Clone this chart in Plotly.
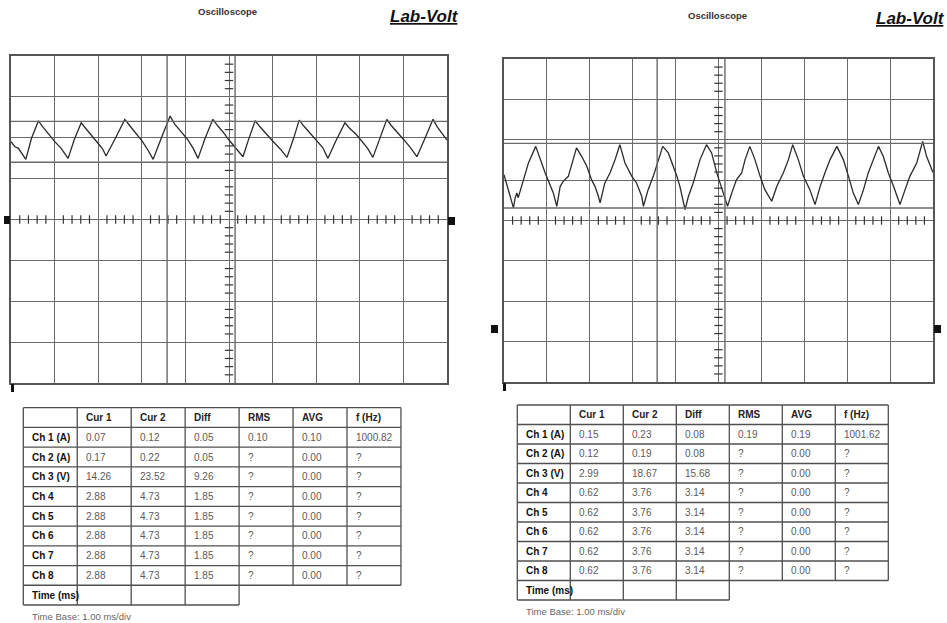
import plotly.graph_objects as go

W, H = 947, 623

# ---------------- data ----------------
# Left capture: Ch 1 current (A) vs time (ms)
left_time_ms = [0.00, 0.09, 0.17, 0.22, 0.34, 0.47, 0.63, 0.72, 0.85, 1.00, 1.15, 1.31,
                1.45, 1.61, 1.72, 1.86, 2.00, 2.10, 2.18, 2.40, 2.61, 2.72, 2.86, 3.00,
                3.14, 3.26, 3.45, 3.65, 3.75, 3.90, 4.05, 4.18, 4.29, 4.45, 4.63, 4.75,
                4.88, 5.00, 5.15, 5.32, 5.45, 5.60, 5.70, 5.85, 6.00, 6.18, 6.33, 6.48,
                6.61, 6.72, 6.88, 7.02, 7.15, 7.27, 7.45, 7.66, 7.76, 7.92, 8.05, 8.18,
                8.30, 8.45, 8.62, 8.72, 8.88, 9.02, 9.16, 9.31, 9.50, 9.68, 9.78, 9.90,
                10.00]
left_ch1_a = [0.0951, 0.0890, 0.0870, 0.0829, 0.0736, 0.0993, 0.1208, 0.1140, 0.1050, 0.0955, 0.0870, 0.0748,
              0.0975, 0.1183, 0.1110, 0.1025, 0.0930, 0.0865, 0.0776, 0.1000, 0.1225, 0.1150, 0.1060, 0.0965,
              0.0850, 0.0736, 0.1000, 0.1265, 0.1170, 0.1080, 0.0980, 0.0870, 0.0748, 0.0990, 0.1225, 0.1140,
              0.1060, 0.0972, 0.0880, 0.0768, 0.0980, 0.1208, 0.1140, 0.1045, 0.0960, 0.0860, 0.0760, 0.0990,
              0.1216, 0.1140, 0.1040, 0.0955, 0.0880, 0.0748, 0.0960, 0.1183, 0.1120, 0.1040, 0.0950, 0.0870,
              0.0760, 0.0990, 0.1225, 0.1150, 0.1060, 0.0970, 0.0880, 0.0768, 0.1000, 0.1225, 0.1130, 0.1040,
              0.0972]

# Right capture: Ch 1 current (A) vs time (ms)
right_time_ms = [0.00, 0.22, 0.26, 0.30, 0.33, 0.45, 0.57, 0.74, 0.88, 0.96, 1.15, 1.23,
                 1.31, 1.38, 1.50, 1.62, 1.69, 1.81, 1.93, 2.04, 2.12, 2.20, 2.24, 2.35,
                 2.47, 2.59, 2.70, 2.82, 2.98, 3.09, 3.21, 3.25, 3.36, 3.48, 3.60, 3.70,
                 3.83, 3.95, 4.03, 4.10, 4.22, 4.30, 4.41, 4.57, 4.72, 4.84, 4.96, 5.11,
                 5.21, 5.31, 5.42, 5.54, 5.62, 5.73, 5.85, 5.97, 6.08, 6.24, 6.36, 6.51,
                 6.63, 6.73, 6.86, 6.98, 7.13, 7.25, 7.37, 7.48, 7.60, 7.76, 7.91, 8.03,
                 8.14, 8.26, 8.38, 8.49, 8.61, 8.73, 8.84, 8.96, 9.08, 9.23, 9.35, 9.46,
                 9.62, 9.76, 9.85, 10.00]
right_ch1_a = [0.1913, 0.1501, 0.1625, 0.1687, 0.1625, 0.1851, 0.2058, 0.2263, 0.2058, 0.1934, 0.1687, 0.1521,
               0.1768, 0.1830, 0.1892, 0.2099, 0.2244, 0.2140, 0.2016, 0.1851, 0.1768, 0.1645, 0.1563, 0.1810,
               0.1934, 0.2099, 0.2284, 0.2058, 0.1892, 0.1810, 0.1645, 0.1521, 0.1727, 0.1892, 0.2099, 0.2263,
               0.2182, 0.2016, 0.1892, 0.1768, 0.1480, 0.1645, 0.1810, 0.2099, 0.2284, 0.2182, 0.1934, 0.1687,
               0.1521, 0.1687, 0.1851, 0.1934, 0.2099, 0.2263, 0.2099, 0.1892, 0.1727, 0.1583, 0.1768, 0.1934,
               0.2099, 0.2284, 0.2099, 0.1892, 0.1727, 0.1542, 0.1768, 0.1934, 0.2099, 0.2263, 0.2099, 0.1892,
               0.1687, 0.1542, 0.1727, 0.1934, 0.2099, 0.2263, 0.2140, 0.1934, 0.1768, 0.1542, 0.1727, 0.1892,
               0.2058, 0.2325, 0.2140, 0.1938]

assert len(left_time_ms) == len(left_ch1_a)
assert len(right_time_ms) == len(right_ch1_a)

# scope settings
amps_per_div = 0.05
ms_per_div = 1.0
left_ground_div = 0.0
right_ground_div = -2.69
left_cursor_ms = [3.58, 5.14]
right_cursor_ms = [3.57, 5.15]

# table contents
headers = ["", "Cur 1", "Cur 2", "Diff", "RMS", "AVG", "f (Hz)"]
row_labels = ["Ch 1 (A)", "Ch 2 (A)", "Ch 3 (V)", "Ch 4", "Ch 5", "Ch 6", "Ch 7", "Ch 8"]
time_label = "Time (ms)"

left_cur1 = ["0.07", "0.17", "14.26", "2.88", "2.88", "2.88", "2.88", "2.88"]
left_cur2 = ["0.12", "0.22", "23.52", "4.73", "4.73", "4.73", "4.73", "4.73"]
left_diff = ["0.05", "0.05", "9.26", "1.85", "1.85", "1.85", "1.85", "1.85"]
left_rms = ["0.10", "?", "?", "?", "?", "?", "?", "?"]
left_avg = ["0.10", "0.00", "0.00", "0.00", "0.00", "0.00", "0.00", "0.00"]
left_freq = ["1000.82", "?", "?", "?", "?", "?", "?", "?"]

right_cur1 = ["0.15", "0.12", "2.99", "0.62", "0.62", "0.62", "0.62", "0.62"]
right_cur2 = ["0.23", "0.19", "18.67", "3.76", "3.76", "3.76", "3.76", "3.76"]
right_diff = ["0.08", "0.08", "15.68", "3.14", "3.14", "3.14", "3.14", "3.14"]
right_rms = ["0.19", "?", "?", "?", "?", "?", "?", "?"]
right_avg = ["0.19", "0.00", "0.00", "0.00", "0.00", "0.00", "0.00", "0.00"]
right_freq = ["1001.62", "?", "?", "?", "?", "?", "?", "?"]

title_text = "Oscilloscope"
logo_text = "Lab-Volt"
timebase_text = "Time Base: 1.00 ms/div"

# ---------------- helpers ----------------
def px(x):
    return x / W

def py(y):
    return 1 - y / H

FONT = "Liberation Sans, Arial, sans-serif"
GRID = "#6a6a6a"
shapes = []
annotations = []

fig = go.Figure()


def setup_scope(idx, dom_x, dom_y, ground_div, t, a, cursors_t, cursor_levels):
    xa = "xaxis" if idx == 1 else f"xaxis{idx}"
    ya = "yaxis" if idx == 1 else f"yaxis{idx}"
    xr = "x" if idx == 1 else f"x{idx}"
    yr = "y" if idx == 1 else f"y{idx}"
    center = -ground_div * amps_per_div
    common = dict(showgrid=True, gridcolor=GRID, gridwidth=1.4, showticklabels=False,
                  ticks="", zeroline=False, showline=True, linecolor="#555",
                  linewidth=1.8, mirror=True, fixedrange=True)
    fig.update_layout({
        xa: dict(domain=[px(dom_x[0]), px(dom_x[1])], range=[0, 10 * ms_per_div],
                 dtick=ms_per_div, tick0=0, anchor=yr, **common),
        ya: dict(domain=[py(dom_y[1]), py(dom_y[0])],
                 range=[center - 4 * amps_per_div, center + 4 * amps_per_div],
                 dtick=amps_per_div, tick0=center, anchor=xr, **common),
    })
    # cursor lines
    for ct in cursors_t:
        shapes.append(dict(type="line", xref=xr, yref=f"{yr} domain", x0=ct, x1=ct,
                           y0=0, y1=1, line=dict(color=GRID, width=1.4), layer="above"))
    for lv in cursor_levels:
        shapes.append(dict(type="line", xref=f"{xr} domain", yref=yr, x0=0, x1=1,
                           y0=lv, y1=lv, line=dict(color=GRID, width=1.4), layer="above"))
    # graticule minor ticks on the centre lines
    hx = [k * ms_per_div / 5 for k in range(1, 50) if k % 5]
    fig.add_trace(go.Scatter(x=hx, y=[center] * len(hx), mode="markers", xaxis=xr, yaxis=yr,
                             marker=dict(symbol="line-ns", size=6, line=dict(width=1.2, color="#333")),
                             hoverinfo="skip", showlegend=False))
    vy = [center + k * amps_per_div / 5 for k in range(-19, 20) if k % 5]
    fig.add_trace(go.Scatter(x=[5 * ms_per_div] * len(vy), y=vy, mode="markers", xaxis=xr, yaxis=yr,
                             marker=dict(symbol="line-ew", size=6, line=dict(width=1.2, color="#333")),
                             hoverinfo="skip", showlegend=False))
    # waveform
    fig.add_trace(go.Scatter(x=t, y=a, mode="lines", xaxis=xr, yaxis=yr,
                             line=dict(color="#2a2a2a", width=1.3),
                             hoverinfo="skip", showlegend=False))


setup_scope(1, (11, 447), (56, 383), left_ground_div, left_time_ms, left_ch1_a,
            left_cursor_ms, [float(left_cur1[0]), float(left_cur2[0])])
setup_scope(2, (504, 933), (59, 382), right_ground_div, right_time_ms, right_ch1_a,
            right_cursor_ms, [float(right_cur1[0]), float(right_cur2[0])])


def rect(x0, y0, x1, y1, color="#111"):
    shapes.append(dict(type="rect", xref="paper", yref="paper", x0=px(x0), x1=px(x1),
                       y0=py(y1), y1=py(y0), fillcolor=color, line=dict(width=0), layer="above"))

# channel / trigger indicators
rect(4, 216, 10, 224)
rect(448, 217, 455, 225)
rect(11, 384, 14, 392)
rect(491, 325, 498, 333)
rect(934, 325, 941, 333)
rect(503, 383, 506, 391)


def line(x0, y0, x1, y1, color="#505050", w=1.3):
    shapes.append(dict(type="line", xref="paper", yref="paper", x0=px(x0), x1=px(x1),
                       y0=py(y0), y1=py(y1), line=dict(color=color, width=w), layer="above"))


def text(x, y, s, size=10, color="#555", bold=False, xanchor="left"):
    annotations.append(dict(x=px(x), y=py(y), xref="paper", yref="paper", text=s,
                            showarrow=False, xanchor=xanchor, yanchor="middle",
                            font=dict(family=FONT, size=size, color=color,
                                      weight="bold" if bold else "normal")))


def draw_table(left, top, colw, rowh, cols, tb_gap):
    xs = [left + k * colw for k in range(8)]
    ys = [top + k * rowh for k in range(11)]
    for r in range(11):
        line(xs[0], ys[r], xs[7] if r < 10 else xs[4], ys[r])
    for c in range(8):
        line(xs[c], ys[0], xs[c], ys[10] if c <= 4 else ys[9])
    pad = 7
    for c, h in enumerate(headers):
        if h:
            text(xs[c] + pad, (ys[0] + ys[1]) / 2, h, color="#222", bold=True)
    for r, lab in enumerate(row_labels):
        yc = (ys[r + 1] + ys[r + 2]) / 2
        text(xs[0] + pad, yc, lab, color="#111", bold=True)
        for c, col in enumerate(cols):
            text(xs[c + 1] + pad, yc, col[r], color="#5a5a5a")
    text(xs[0] + pad, (ys[9] + ys[10]) / 2, time_label, color="#111", bold=True)
    text(xs[0] + pad, ys[10] + tb_gap, timebase_text, size=9.5, color="#666")


draw_table(23.3, 407.7, 53.95, 19.73,
           [left_cur1, left_cur2, left_diff, left_rms, left_avg, left_freq], 11)
draw_table(517.3, 405.0, 53.0, 19.5,
           [right_cur1, right_cur2, right_diff, right_rms, right_avg, right_freq], 11)

# headers and logos
for cx, cy in [(227, 12), (717, 15)]:
    text(cx, cy, title_text, size=9.5, color="#333", bold=True, xanchor="center")
for cx, cy in [(424, 16), (910, 19)]:
    annotations.append(dict(x=px(cx), y=py(cy), xref="paper", yref="paper", text=logo_text,
                            showarrow=False, xanchor="center", yanchor="middle",
                            font=dict(family=FONT, size=17, color="#111", weight="bold",
                                      style="italic", lineposition="under")))

fig.update_layout(width=W, height=H, margin=dict(l=0, r=0, t=0, b=0),
                  paper_bgcolor="white", plot_bgcolor="white",
                  shapes=shapes, annotations=annotations, showlegend=False)

fig.write_html("out.html", config={"displayModeBar": False},
               post_script="document.body.style.margin='0';document.body.style.overflow='hidden';")
